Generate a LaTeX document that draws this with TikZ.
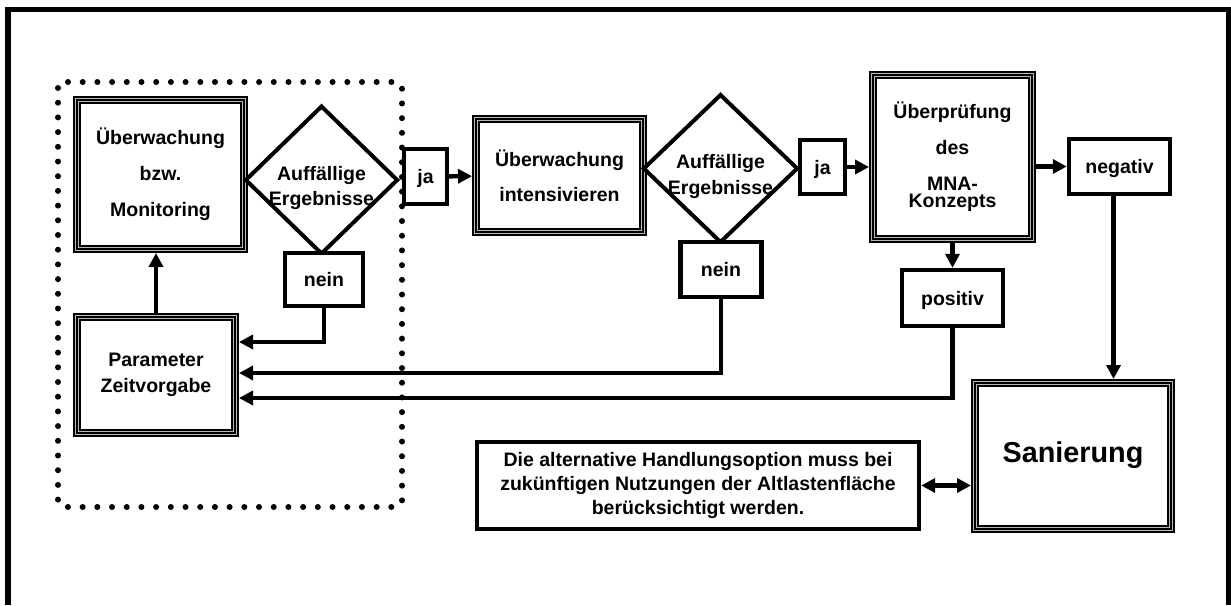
\documentclass[tikz,border=0pt]{standalone}
\usepackage{fontspec}
\setmainfont{Liberation Sans}
\usepackage{tikz}
\usetikzlibrary{arrows.meta,shapes.geometric}
\tikzset{%
  >={Triangle[width=7pt,length=7pt]},
  % Specifications for style of nodes:
        base/.style = {rectangle, draw=black, fill=white, align=center,
                       inner sep=0pt,
                       font=\bfseries\fontsize{9.75}{12}\selectfont},
     tribox/.style = {base, line width=0.9pt, double=gray!55,
                      double distance=2.2pt, outer sep=2pt,
                      postaction={draw, line width=0.7pt}},
    answbox/.style = {base, line width=2.2pt, text height=8pt, text depth=1pt},
   decision/.style = {base, diamond, line width=2pt},
      flow/.style  = {line width=2.2pt},
}
\newcommand{\asktext}{\raisebox{-4pt}[\height][\depth]{%
  \shortstack{Auffällige\\[0.5pt]Ergebnisse}}}

\begin{document}
\begin{tikzpicture}[x=0.5pt, y=-0.5pt]
  \useasboundingbox (0,0) rectangle (1231,605);
  % frame (open at the bottom)
  \draw[line width=2.6pt] (8,605) -- (8,9.5) -- (1228.5,9.5) -- (1228.5,605);
  % dotted group
  \draw[line width=3pt, line cap=round, dash pattern=on 0pt off 7.35pt,
        rounded corners=3pt] (58,82) rectangle (402,507);

  % Specification of nodes (position, etc.)
  \node (watch) [tribox, minimum width=83.5pt, minimum height=74.5pt]
        at (160.5,174.5) {Überwachung\\[6pt] bzw.\\[6pt] Monitoring};
  \node (check1) [decision, minimum width=76.5pt, minimum height=71pt]
        at (321.5,180) {\asktext};
  \node (nein1) [answbox, minimum width=39pt, minimum height=26.5pt]
        at (324,279.5) {nein};
  \node (ja1) [answbox, minimum width=21.5pt, minimum height=27.5pt]
        at (425.5,176.5) {ja};
  \node (intens) [tribox, minimum width=83.5pt, minimum height=56.5pt]
        at (559.5,175.5) {Überwachung\\[5.5pt] intensivieren};
  \node (check2) [decision, minimum width=77.5pt, minimum height=68.5pt]
        at (720.5,168.5) {\asktext};
  \node (nein2) [answbox, minimum width=40.5pt, minimum height=27.5pt]
        at (721,269.5) {nein};
  \node (ja2) [answbox, minimum width=22.5pt, minimum height=27pt]
        at (822.5,167) {ja};
  \node (review) [tribox, minimum width=79.5pt, minimum height=82pt]
        at (952.5,157) {Überprüfung\\[6pt] des\\[6pt] MNA-\\[-3.5pt] Konzepts};
  \node (neg) [answbox, minimum width=50.5pt, minimum height=27.5pt]
        at (1119.5,166.5) {negativ};
  \node (pos) [answbox, minimum width=50.5pt, minimum height=28pt]
        at (952.5,298) {positiv};
  \node (param) [tribox, minimum width=79pt, minimum height=58pt]
        at (156,375) {Parameter\\[1pt] Zeitvorgabe};
  \node (sanier) [tribox, minimum width=98pt, minimum height=73pt,
        font=\bfseries\fontsize{14.4}{16}\selectfont]
        at (1073,456) {\raisebox{4pt}{Sanierung}};
  \node (alt) [answbox, text height=, text depth=,
        minimum width=221pt, minimum height=43.5pt]
        at (698,485.5) {Die alternative Handlungsoption muss bei\\
        zukünftigen Nutzungen der Altlastenfläche\\
        berücksichtigt werden.};

  % Specification of lines between nodes specified above
  \draw[flow, ->] (param.north) -- (param.north |- watch.south);
  \draw[flow, ->] (ja1) -- (intens);
  \draw[flow, ->] (ja2) -- (ja2 -| review.west);
  \draw[flow, ->] (review.east |- neg) -- (neg);
  \draw[flow, ->] (review) -- (pos);
  \draw[flow, ->] (nein1.south) |- ([yshift=16.5pt]param.east);
  \draw[flow, ->] (nein2.south) |- ([yshift=1pt]param.east);
  \draw[flow, ->] (pos.south) |- ([yshift=-11.5pt]param.east);
  \draw[flow, ->] ([xshift=-3pt]neg.south) -- ([xshift=-3pt]neg.south |- sanier.north);
  \draw[flow, <->] (alt.east) -- (alt.east -| sanier.west);
\end{tikzpicture}
\end{document}
